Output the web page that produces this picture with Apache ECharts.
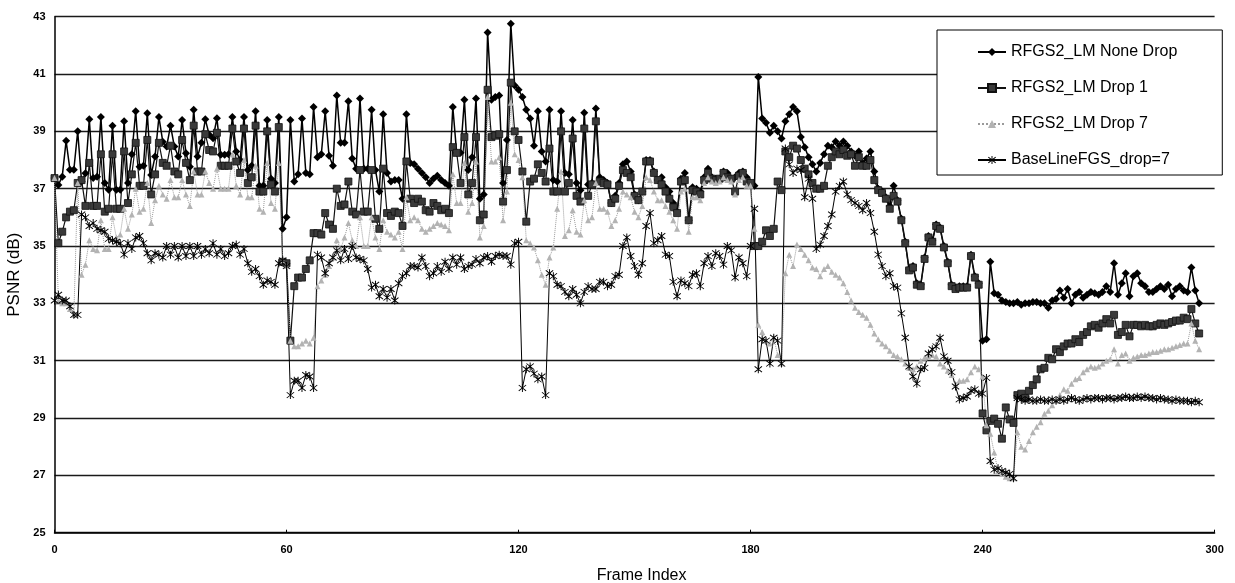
<!DOCTYPE html>
<html><head><meta charset="utf-8">
<script src="https://cdn.jsdelivr.net/npm/echarts@6/dist/echarts.min.js"></script>
<style>html,body{margin:0;padding:0;background:#fff}#c{width:1235px;height:583px}</style>
</head><body><div id="c"></div>
<script>
const seriesNames = ['RFGS2_LM None Drop','RFGS2_LM Drop 1','RFGS2_LM Drop 7','BaseLineFGS_drop=7'];
const xTicks = [0,60,120,180,240,300];
const yTicks = [25,27,29,31,33,35,37,39,41,43];

const noneDrop = [
 37.37,37.13,37.42,38.67,37.66,37.66,39.0,37.25,37.54,39.42,
 37.37,37.42,39.5,37.2,36.96,39.2,36.96,36.96,39.35,37.2,
 38.2,39.7,37.77,37.8,39.63,37.48,38.12,39.5,38.64,38.47,
 39.2,38.47,38.12,39.4,38.24,37.77,39.75,38.12,38.6,39.42,
 38.88,38.76,39.46,38.18,38.18,38.2,39.5,38.3,38.0,39.5,
 37.65,37.8,39.7,37.1,37.1,39.4,37.35,37.2,39.5,35.6,
 36.0,39.4,37.25,37.5,39.45,37.55,37.5,39.85,38.1,38.2,
 39.7,38.15,37.8,40.25,38.6,38.6,40.05,38.05,37.7,40.15,
 37.7,37.7,39.75,37.65,36.9,39.6,37.55,37.25,37.3,37.3,
 36.65,39.6,37.9,37.85,37.7,37.55,37.4,37.2,37.35,37.45,
 37.3,37.2,37.1,39.85,38.25,38.25,40.1,37.65,38.1,40.15,
 36.65,36.8,42.45,40.1,40.2,40.25,37.2,38.7,42.75,40.6,
 40.45,40.2,39.75,39.45,38.5,39.7,38.3,37.95,39.75,37.3,
 37.25,39.7,37.55,37.5,39.4,37.2,36.95,39.65,37.15,37.2,
 39.8,37.4,37.3,37.2,36.5,36.75,37.2,37.85,37.95,37.6,
 36.8,36.6,36.9,38.0,38.0,37.6,37.3,37.4,37.05,36.9,
 36.5,36.2,37.35,37.55,35.9,37.05,37.0,36.9,37.4,37.7,
 37.4,37.35,37.35,37.6,37.55,37.35,37.4,37.55,37.6,37.4,
 37.2,37.1,40.9,39.45,39.3,38.95,39.2,39.0,38.75,39.35,
 39.6,39.85,39.7,38.8,38.45,38.1,37.85,37.6,37.9,38.2,
 38.5,38.45,38.65,38.5,38.65,38.5,38.3,38.15,38.3,37.9,
 38.05,38.3,37.6,37.0,36.9,36.7,36.4,37.1,36.6,35.95,
 35.15,34.2,34.3,33.7,33.65,34.6,35.35,35.2,35.75,35.65,
 35.0,34.45,33.65,33.55,33.6,33.6,33.6,34.7,33.95,33.7,
 31.7,31.75,34.45,33.35,33.3,33.1,33.05,33.0,33.0,33.05,
 32.95,33.0,33.0,33.05,33.05,33.0,33.0,32.85,33.1,33.15,
 33.45,33.2,33.5,33.0,33.3,33.4,33.2,33.3,33.4,33.35,
 33.3,33.4,33.6,33.4,34.4,33.3,33.7,34.05,33.25,33.95,
 34.05,33.7,33.6,33.4,33.4,33.5,33.6,33.5,33.65,33.25,
 33.5,33.6,33.45,33.4,34.25,33.45,33.0
];

const dropOne = [
 37.37,35.1,35.5,36.0,36.2,36.25,37.2,37.3,36.4,37.9,
 36.4,36.4,38.2,36.2,36.3,38.2,36.3,36.3,38.3,36.5,
 37.5,38.6,37.1,37.1,38.7,36.8,37.5,38.6,37.9,37.8,
 38.5,37.6,37.5,38.7,37.9,37.3,39.2,37.6,37.6,38.9,
 38.35,38.3,38.95,37.8,37.8,37.8,39.1,37.95,37.55,39.1,
 37.2,37.4,39.2,36.9,36.9,39.0,37.15,36.9,39.15,34.45,
 34.4,31.7,33.6,33.9,33.9,34.2,34.5,35.45,35.45,35.4,
 36.15,35.75,35.6,37.0,36.4,36.45,37.25,36.2,36.1,37.65,
 36.2,36.2,37.65,35.95,35.6,37.7,36.15,36.05,36.2,36.15,
 35.7,37.95,36.65,36.5,36.65,36.55,36.25,36.2,36.5,36.4,
 36.25,36.3,36.15,38.45,38.25,37.2,38.8,36.8,37.2,38.8,
 35.9,36.1,40.45,38.8,38.85,38.9,36.55,37.65,40.7,39.0,
 38.7,37.6,35.85,37.25,37.35,37.85,37.55,37.25,38.4,36.9,
 36.9,39.0,36.9,37.2,38.75,36.75,36.55,39.1,36.75,37.15,
 39.35,37.25,37.2,37.15,36.5,36.65,37.1,37.65,37.55,37.4,
 36.75,36.6,36.9,37.95,37.95,37.55,37.3,37.15,36.9,36.65,
 36.35,36.15,37.25,37.3,35.9,36.95,36.9,36.8,37.3,37.55,
 37.35,37.3,37.35,37.55,37.4,37.35,36.9,37.45,37.55,37.25,
 37.2,35.0,35.0,35.15,35.55,35.35,35.6,37.25,36.95,38.3,
 38.1,38.5,38.4,38.0,37.7,37.5,37.2,37.0,37.0,37.1,
 37.8,38.1,38.3,38.2,38.35,38.15,38.2,37.8,38.1,37.8,
 37.8,38.0,37.3,36.95,36.85,36.65,36.3,36.75,36.55,35.9,
 35.1,34.15,34.25,33.65,33.6,34.55,35.3,35.15,35.7,35.6,
 34.95,34.4,33.6,33.5,33.55,33.55,33.55,34.65,33.9,33.65,
 29.16,28.57,28.9,28.98,28.8,28.28,29.37,28.95,28.83,29.8,
 29.85,29.7,29.95,30.15,30.35,30.7,30.75,31.1,31.05,31.4,
 31.3,31.5,31.6,31.6,31.75,31.65,31.9,32.0,32.2,32.25,
 32.15,32.3,32.45,32.3,32.6,31.9,32.0,32.25,31.85,32.25,
 32.25,32.2,32.25,32.2,32.2,32.25,32.3,32.25,32.3,32.35,
 32.4,32.4,32.5,32.45,32.8,32.3,31.95
];

const dropSeven = [
 37.37,33.1,33.0,33.0,32.8,32.6,37.2,34.0,34.35,35.2,
 34.9,34.85,35.9,34.9,34.9,36.0,35.3,35.4,36.3,35.6,
 36.1,37.0,36.2,36.3,37.2,35.8,36.6,37.1,36.8,36.65,
 37.3,36.7,36.7,37.3,36.8,36.4,37.6,36.8,36.8,37.6,
 37.2,37.0,37.7,37.0,37.0,37.0,38.2,37.1,36.8,38.0,
 36.7,36.7,37.8,36.3,36.2,37.9,36.5,36.3,37.9,34.5,
 34.3,31.7,31.5,31.5,31.6,31.7,31.6,31.8,33.6,33.8,
 34.0,34.3,34.6,35.2,34.9,35.3,35.8,35.2,35.0,36.0,
 35.0,35.0,36.0,35.3,34.9,35.9,35.5,35.4,35.3,35.5,
 34.9,36.7,35.9,36.0,35.9,35.6,35.5,35.6,35.7,35.8,
 35.75,35.7,35.55,37.5,36.5,36.5,37.9,36.2,36.5,37.95,
 35.3,35.7,40.2,37.95,37.95,38.1,35.9,36.9,40.0,38.2,
 38.0,37.4,35.2,35.1,34.95,34.5,34.0,33.65,34.6,34.95,
 36.3,37.6,35.35,35.55,36.25,35.5,35.4,36.6,35.9,36.0,
 37.2,36.3,36.3,36.2,35.7,35.9,36.3,36.9,36.8,36.7,
 36.2,36.0,36.4,37.4,37.3,36.9,36.6,36.6,36.4,36.2,
 35.9,35.6,36.9,37.0,35.5,36.7,36.7,36.6,37.2,37.4,
 37.25,37.2,37.25,37.4,37.3,37.25,36.8,37.3,37.4,37.1,
 37.1,35.6,32.25,32.0,31.7,31.6,31.8,31.2,30.9,34.05,
 34.7,34.3,35.05,34.9,34.7,34.5,34.25,34.2,33.95,34.2,
 34.3,34.1,34.0,33.9,33.7,33.4,33.1,32.85,32.7,32.6,
 32.5,32.25,31.95,31.75,31.6,31.5,31.35,31.2,31.15,31.05,
 30.9,30.75,30.7,30.8,31.0,31.1,31.15,31.2,31.15,30.9,
 30.8,30.65,30.5,30.2,30.3,30.3,30.35,30.6,30.8,30.7,
 30.45,28.75,28.45,27.8,27.15,27.05,26.95,26.9,26.9,28.5,
 28.0,27.9,28.2,28.5,28.7,28.85,29.15,29.25,29.45,29.6,
 29.8,30.0,29.95,30.2,30.35,30.4,30.6,30.7,30.8,30.75,
 30.8,30.9,31.0,31.05,31.4,30.9,31.2,31.25,31.0,31.1,
 31.15,31.2,31.2,31.25,31.3,31.3,31.35,31.4,31.4,31.45,
 31.5,31.55,31.6,31.6,32.3,31.7,31.4
];

const baseLine = [
 33.1,33.3,33.1,33.1,32.9,32.6,32.6,36.1,36.0,35.7,
 35.8,35.6,35.55,35.5,35.25,35.2,35.15,35.1,34.7,35.1,
 34.9,35.3,35.35,35.1,34.75,34.5,34.75,34.7,34.6,35.0,
 34.7,35.0,34.6,35.0,34.65,35.0,34.65,35.0,34.7,34.9,
 34.75,35.1,34.7,34.9,34.65,34.75,35.0,35.05,34.7,34.9,
 34.4,34.1,34.2,33.95,33.65,33.8,33.75,33.65,34.4,34.5,
 34.3,29.8,30.3,30.3,30.05,30.5,30.45,30.05,34.7,34.6,
 34.05,34.4,34.6,34.85,34.5,34.9,34.55,35.0,34.6,34.55,
 34.5,34.2,33.55,33.65,33.25,33.5,33.2,33.5,33.1,33.7,
 33.95,34.05,34.3,34.3,34.25,34.6,34.3,33.95,34.05,34.3,
 34.1,34.45,34.2,34.6,34.35,34.6,34.2,34.3,34.35,34.55,
 34.4,34.6,34.65,34.45,34.65,34.7,34.65,34.65,34.35,35.1,
 35.15,30.05,30.7,30.8,30.55,30.35,30.45,29.8,34.05,33.95,
 33.65,33.6,33.4,33.25,33.5,33.3,33.0,33.4,33.6,33.5,
 33.5,33.75,33.75,33.6,33.65,33.95,34.0,35.0,35.3,34.65,
 34.3,34.0,34.4,35.7,36.15,35.1,35.2,35.35,34.7,34.65,
 33.75,33.25,33.8,33.7,33.6,34.0,34.05,33.6,34.4,34.65,
 34.3,34.75,34.65,34.35,35.0,34.85,33.9,34.6,34.4,33.95,
 35.0,36.3,30.7,31.75,31.7,30.9,31.8,31.7,30.9,38.4,
 37.85,37.55,37.7,37.65,36.7,37.35,36.65,34.9,35.05,35.35,
 35.7,36.1,36.9,37.1,37.25,36.8,36.6,36.5,36.4,36.25,
 36.5,36.15,35.5,34.7,34.3,33.95,34.05,33.6,33.55,32.65,
 31.8,30.8,30.45,30.2,30.7,30.75,31.25,31.4,31.5,31.8,
 31.15,31.0,30.6,30.1,29.65,29.7,29.75,29.95,30.0,29.85,
 29.85,30.4,27.5,27.2,27.25,27.15,27.1,27.05,26.9,29.7,
 29.65,29.6,29.65,29.6,29.6,29.65,29.6,29.6,29.65,29.6,
 29.65,29.6,29.65,29.7,29.65,29.6,29.65,29.7,29.65,29.7,
 29.7,29.65,29.7,29.7,29.65,29.7,29.7,29.75,29.7,29.7,
 29.75,29.7,29.75,29.7,29.7,29.65,29.7,29.65,29.65,29.6,
 29.65,29.6,29.6,29.6,29.55,29.6,29.55
];

const frameIndex = noneDrop.map((_, i) => i);
function pts(arr) { return arr.map((v, i) => [frameIndex[i], v]); }

const FONT = '"Liberation Sans", Arial, sans-serif';
const asterisk = 'path://M4.4,0L5.6,0L5.6,10L4.4,10Z M0,1.8L0.8,1L10,8.2L9.2,9Z M9.2,1L10,1.8L0.8,9L0,8.2Z';

const chart = echarts.init(document.getElementById('c'), null, {renderer: 'canvas'});
const option = {
  animation: false,
  backgroundColor: '#ffffff',
  textStyle: {fontFamily: FONT},
  grid: {left: 54.5, right: 20.4, top: 16.7, bottom: 50.3, containLabel: false, outerBoundsMode: 'none'},
  xAxis: {
    type: 'value', min: xTicks[0], max: xTicks[xTicks.length - 1], interval: 60,
    name: 'Frame Index', nameLocation: 'middle', nameGap: 35,
    nameTextStyle: {fontSize: 16, color: '#000', fontFamily: FONT, padding: [0, 0, 0, 14]},
    axisLine: {lineStyle: {color: '#000', width: 1.5}},
    axisTick: {show: true, inside: true, length: 3, lineStyle: {color: '#000'}},
    axisLabel: {color: '#000', fontSize: 11, fontWeight: 'bold', margin: 12, fontFamily: FONT},
    splitLine: {show: false}
  },
  yAxis: {
    type: 'value', min: yTicks[0], max: yTicks[yTicks.length - 1], interval: 2,
    name: 'PSNR (dB)', nameLocation: 'middle', nameGap: 28,
    nameTextStyle: {fontSize: 17, color: '#000', fontFamily: FONT},
    axisLine: {show: true, lineStyle: {color: '#000', width: 1.5}},
    axisTick: {show: false},
    axisLabel: {color: '#000', fontSize: 11, fontWeight: 'bold', margin: 9, fontFamily: FONT},
    splitLine: {show: true, lineStyle: {color: '#1a1a1a', width: 1.3}}
  },
  legend: {
    orient: 'vertical', left: 937, top: 30,
    padding: [14, 45, 7, 40], itemGap: 20, itemWidth: 28, itemHeight: 10,
    backgroundColor: '#fff', borderColor: '#000', borderWidth: 1,
    textStyle: {fontSize: 16, color: '#000', fontFamily: FONT},
    data: seriesNames
  },
  series: [
    {name: seriesNames[0], type: 'line', data: pts(noneDrop), showAllSymbol: true,
     symbol: 'diamond', symbolSize: 8,
     lineStyle: {color: '#000', width: 1.5}, itemStyle: {color: '#000'}},
    {name: seriesNames[1], type: 'line', data: pts(dropOne), showAllSymbol: true,
     symbol: 'rect', symbolSize: 7,
     lineStyle: {color: '#111', width: 1.2}, itemStyle: {color: '#3a3a3a', borderColor: '#111', borderWidth: 0.8}},
    {name: seriesNames[2], type: 'line', data: pts(dropSeven), showAllSymbol: true,
     symbol: 'triangle', symbolSize: 6,
     lineStyle: {color: '#9a9a9a', width: 1, type: 'dotted'}, itemStyle: {color: '#b3b3b3'}},
    {name: seriesNames[3], type: 'line', data: pts(baseLine), showAllSymbol: true,
     symbol: asterisk, symbolSize: 8,
     lineStyle: {color: '#000', width: 1}, itemStyle: {color: '#000'}}
  ]
};
chart.setOption(option);
</script>
</body></html>
